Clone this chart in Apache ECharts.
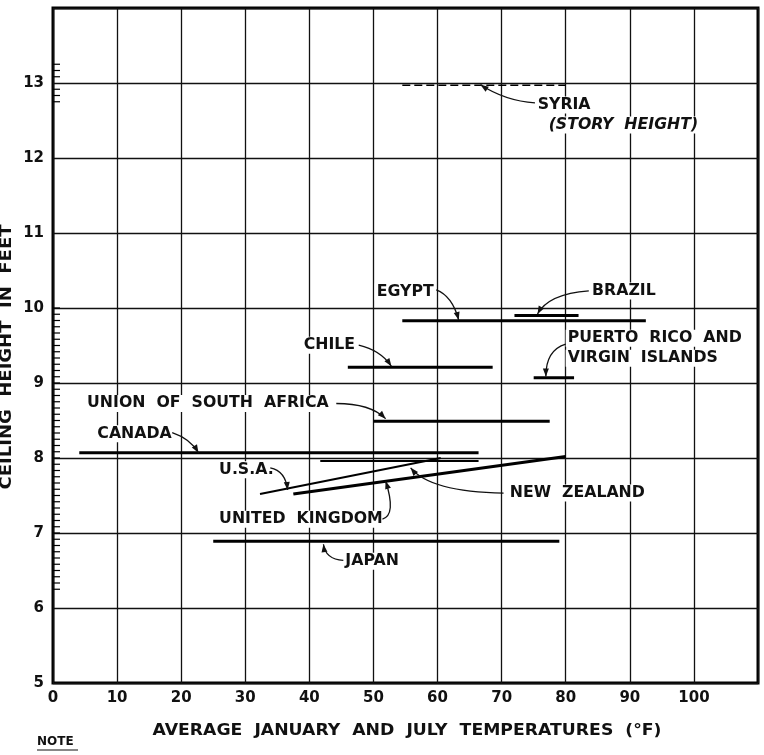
<!DOCTYPE html>
<html>
<head>
<meta charset="utf-8">
<script src="https://cdn.jsdelivr.net/npm/echarts@6/dist/echarts.min.js"></script>
<style>
html,body{margin:0;padding:0;background:#fff;}
#main{width:764px;height:755px;}
</style>
</head>
<body>
<div id="main"></div>
<script>
// ceiling heights against average january/july temperatures
var countries  = ['SYRIA','EGYPT','BRAZIL','PUERTO RICO','CHILE','UNION OF SOUTH AFRICA','CANADA','NEW ZEALAND','U.S.A.','UNITED KINGDOM','JAPAN'];
var tempFrom   = [54.5, 54.5, 72, 75, 46, 50, 4.1, 41.7, 32.3, 37.5, 25];
var tempTo     = [80, 92.5, 82, 81.3, 68.6, 77.5, 66.4, 66.4, 60.5, 80, 79];
var heightFrom = [12.97, 9.83, 9.9, 9.07, 9.21, 8.49, 8.07, 7.96, 7.52, 7.52, 6.89];
var heightTo   = [12.97, 9.83, 9.9, 9.07, 9.21, 8.49, 8.07, 7.96, 8.0, 8.02, 6.89];

var xTicks = [0, 10, 20, 30, 40, 50, 60, 70, 80, 90, 100];
var yTicks = [5, 6, 7, 8, 9, 10, 11, 12, 13];
// inch marks on the left edge (in inches)
var inchMarks = [75,76,77,78,79,80,81,82,83,84,85,86,87,88,89,90,91,92,93,94,95,96,97,98,99,100,
  101,102,103,104,105,106,107,108,109,110,111,112,113,114,115,116,117,118,119,120,153,154,155,157,158,159];

// labels and leaders (data coords)
var labelLines = [['SYRIA','(STORY  HEIGHT)'],['EGYPT'],['BRAZIL'],['PUERTO  RICO  AND','VIRGIN  ISLANDS'],['CHILE'],
  ['UNION  OF  SOUTH  AFRICA'],['CANADA'],['NEW  ZEALAND'],['U.S.A.'],['UNITED  KINGDOM'],['JAPAN']];
var labelAt    = [[75.6,12.708],[50.5,10.214],[84.1,10.228],[80.3,9.598],[39.1,9.504],[5.3,8.727],[6.9,8.324],[71.25,7.533],[25.9,7.842],[25.9,7.185],[45.6,6.622]];
var leaderFrom = [[75.2,12.735],[59.8,10.241],[83.6,10.228],[80.0,9.517],[47.7,9.504],[44.2,8.727],[18.6,8.338],[70.3,7.533],[33.9,7.869],[51.4,7.185],[45.3,6.635]];
var leaderCtrl = [[70.6,12.76],[62.3,10.16],[77.3,10.188],[76.9,9.437],[51.1,9.437],[49.5,8.727],[21.4,8.257],[58.9,7.547],[36.3,7.828],[53.6,7.239],[42.5,6.649]];
var leaderTo   = [[66.7,12.976],[63.3,9.84],[75.6,9.92],[76.9,9.088],[52.8,9.223],[51.9,8.525],[22.7,8.07],[55.8,7.869],[36.6,7.574],[51.9,7.694],[42.2,6.85]];

var chart = echarts.init(document.getElementById('main'));

var series = [];
for (var i = 0; i < countries.length; i++) {
  var w = 3;
  if (countries[i] == 'SYRIA') w = 1.5;
  if (countries[i] == 'NEW ZEALAND' || countries[i] == 'U.S.A.') w = 2;
  series.push({
    name: countries[i],
    type: 'line',
    symbol: 'none',
    silent: true,
    data: [[tempFrom[i], heightFrom[i]], [tempTo[i], heightTo[i]]],
    lineStyle: {color: '#000', width: w, type: countries[i] == 'SYRIA' ? [8, 4] : 'solid'},
    z: 3
  });
}

var markData = [];
for (var k = 0; k < inchMarks.length; k++) markData.push([0, inchMarks[k] / 12]);
series.push({
  type: 'custom',
  silent: true,
  data: markData,
  renderItem: function (params, api) {
    var p = api.coord([api.value(0), api.value(1)]);
    return {type: 'line', shape: {x1: p[0], y1: p[1], x2: p[0] + 7, y2: p[1]},
      style: {stroke: '#000', lineWidth: 1.2}};
  },
  z: 4
});

var font = 'DejaVu Sans';

chart.setOption({
  animation: false,
  backgroundColor: '#fff',
  grid: {left: 53, right: 6, top: 8, bottom: 72, show: true, borderColor: '#000', borderWidth: 3},
  xAxis: {
    type: 'value', min: 0, max: 110, interval: 10,
    axisLine: {show: false}, axisTick: {show: false},
    splitLine: {show: true, lineStyle: {color: '#111', width: 1.3}},
    axisLabel: {color: '#111', fontFamily: font, fontWeight: 'bold', fontSize: 15, margin: 8,
      formatter: function (v) { return xTicks.indexOf(v) >= 0 ? String(v) : ''; }}
  },
  yAxis: {
    type: 'value', min: 5, max: 14, interval: 1,
    axisLine: {show: false}, axisTick: {show: false},
    splitLine: {show: true, lineStyle: {color: '#111', width: 1.3}},
    axisLabel: {color: '#111', fontFamily: font, fontWeight: 'bold', fontSize: 15, margin: 9,
      formatter: function (v) { return yTicks.indexOf(v) >= 0 ? String(v) : ''; }}
  },
  series: series
});

function px(pt) { return chart.convertToPixel({gridIndex: 0}, pt); }

var graphic = [];
var txtStyle = {font: 'bold 15px "DejaVu Sans"', fill: '#111', backgroundColor: '#fff', padding: [1, 2], verticalAlign: 'middle', align: 'left'};

for (var j = 0; j < labelLines.length; j++) {
  var at = px(labelAt[j]);
  for (var m = 0; m < labelLines[j].length; m++) {
    var st = Object.assign({}, txtStyle, {text: labelLines[j][m]});
    var dx = 0;
    if (j == 0 && m == 1) { st.font = 'italic bold 15px "DejaVu Sans"'; dx = 11; }
    graphic.push({type: 'text', x: at[0] + dx - 2, y: at[1] + m * 20, scaleX: 1.05, z: 10, style: st});
  }
  var a = px(leaderFrom[j]), c = px(leaderCtrl[j]), b = px(leaderTo[j]);
  graphic.push({type: 'bezierCurve', z: 11,
    shape: {x1: a[0], y1: a[1], x2: b[0], y2: b[1], cpx1: c[0], cpy1: c[1]},
    style: {stroke: '#111', lineWidth: 1.3, fill: null}});
  // arrow head
  var ang = Math.atan2(b[1] - c[1], b[0] - c[0]);
  var L = 8, H = 3;
  var bx = b[0] - L * Math.cos(ang), by = b[1] - L * Math.sin(ang);
  graphic.push({type: 'polygon', z: 11,
    shape: {points: [[b[0], b[1]],
      [bx + H * Math.sin(ang), by - H * Math.cos(ang)],
      [bx - H * Math.sin(ang), by + H * Math.cos(ang)]]},
    style: {fill: '#111'}});
}

// axis titles
graphic.push({type: 'text', x: 407, y: 731, z: 10, scaleX: 1.15,
  style: {text: 'AVERAGE  JANUARY  AND  JULY  TEMPERATURES  (°F)', font: 'bold 15px "DejaVu Sans"', fill: '#111', align: 'center', verticalAlign: 'middle'}});
graphic.push({type: 'text', x: 7, y: 357, rotation: Math.PI / 2, scaleX: 1.2, z: 10,
  style: {text: 'CEILING  HEIGHT  IN  FEET', font: 'bold 15px "DejaVu Sans"', fill: '#111', align: 'center', verticalAlign: 'middle'}});
graphic.push({type: 'text', x: 37, y: 742, z: 10,
  style: {text: 'NOTE', font: 'bold 12px "DejaVu Sans"', fill: '#111', align: 'left', verticalAlign: 'middle'}});
graphic.push({type: 'line', z: 10, shape: {x1: 37, y1: 750, x2: 78, y2: 750}, style: {stroke: '#111', lineWidth: 1.2}});

chart.setOption({graphic: graphic});
</script>
</body>
</html>
